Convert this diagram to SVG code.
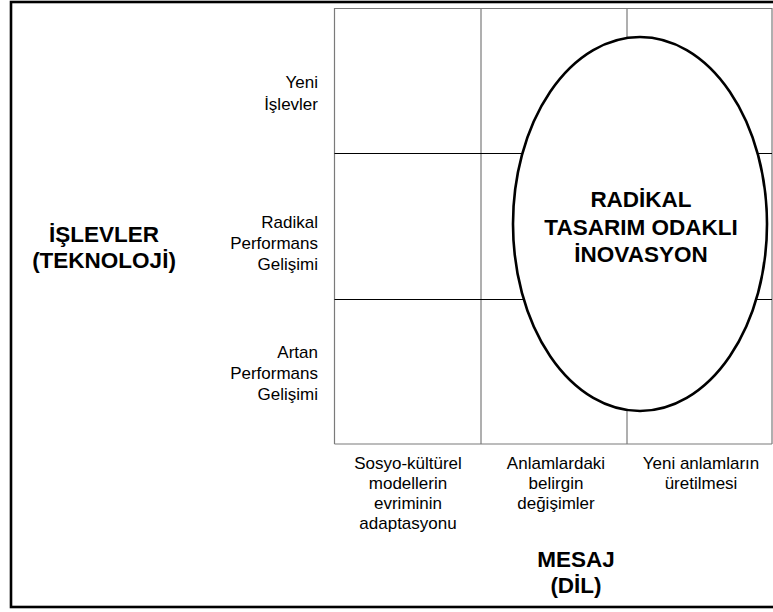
<svg xmlns="http://www.w3.org/2000/svg" width="773" height="612" viewBox="0 0 773 612">
  <style>
    .lbl { font-family: "Liberation Sans", Arial, sans-serif; font-size: 17px; fill: #000; }
    .hd { font-family: "Liberation Sans", Arial, sans-serif; font-size: 22.5px; font-weight: bold; fill: #000; }
    .r { text-anchor: end; }
    .c { text-anchor: middle; }
    .vline { stroke: #7a7a7a; stroke-width: 1.2; fill: none; }
    .hline { stroke: #000; stroke-width: 1.2; fill: none; }
  </style>
  <rect width="773" height="612" fill="#fff"/>
  <!-- outer frame -->
  <rect x="11" y="2" width="775" height="605" fill="none" stroke="#000" stroke-width="2.6"/>

  <!-- 3x3 matrix -->
  <g id="connectors">
    <line class="vline" x1="334.5" y1="8" x2="334.5" y2="444"/>
    <line class="vline" x1="481" y1="8" x2="481" y2="444"/>
    <line class="vline" x1="627" y1="8" x2="627" y2="444"/>
    <line class="vline" x1="772" y1="8" x2="772" y2="444"/>
    <line class="vline" x1="334.5" y1="8.5" x2="772" y2="8.5"/>
    <line class="vline" x1="334.5" y1="444" x2="772" y2="444" stroke-width="1.8"/>
    <line class="hline" x1="334.5" y1="153.5" x2="772" y2="153.5"/>
    <line class="hline" x1="334.5" y1="299.5" x2="772" y2="299.5"/>
  </g>

  <!-- central ellipse -->
  <g id="radikal">
    <ellipse cx="640" cy="224" rx="127" ry="187" fill="#fff" stroke="#000" stroke-width="2.6"/>
    <text class="hd c" x="641" y="207">RADİKAL</text>
    <text class="hd c" x="641" y="235">TASARIM ODAKLI</text>
    <text class="hd c" x="641" y="262">İNOVASYON</text>
  </g>

  <!-- vertical axis -->
  <g id="islevler">
    <text class="hd c" x="104" y="242">İŞLEVLER</text>
    <text class="hd c" x="104" y="268">(TEKNOLOJİ)</text>
  </g>
  <g id="row-yeni">
    <text class="lbl r" x="318" y="88">Yeni</text>
    <text class="lbl r" x="318" y="110">İşlevler</text>
  </g>
  <g id="row-radikal">
    <text class="lbl r" x="318" y="228">Radikal</text>
    <text class="lbl r" x="318" y="249">Performans</text>
    <text class="lbl r" x="318" y="270">Gelişimi</text>
  </g>
  <g id="row-artan">
    <text class="lbl r" x="318" y="358">Artan</text>
    <text class="lbl r" x="318" y="379">Performans</text>
    <text class="lbl r" x="318" y="400">Gelişimi</text>
  </g>

  <!-- horizontal axis -->
  <g id="col-sosyo">
    <text class="lbl c" x="408" y="469">Sosyo-kültürel</text>
    <text class="lbl c" x="408" y="489">modellerin</text>
    <text class="lbl c" x="408" y="509">evriminin</text>
    <text class="lbl c" x="408" y="529">adaptasyonu</text>
  </g>
  <g id="col-anlam">
    <text class="lbl c" x="556" y="469">Anlamlardaki</text>
    <text class="lbl c" x="556" y="489">belirgin</text>
    <text class="lbl c" x="556" y="509">değişimler</text>
  </g>
  <g id="col-yeni">
    <text class="lbl c" x="701" y="469">Yeni anlamların</text>
    <text class="lbl c" x="701" y="489">üretilmesi</text>
  </g>
  <g id="mesaj">
    <text class="hd c" x="576" y="567">MESAJ</text>
    <text class="hd c" x="576" y="593">(DİL)</text>
  </g>
</svg>
